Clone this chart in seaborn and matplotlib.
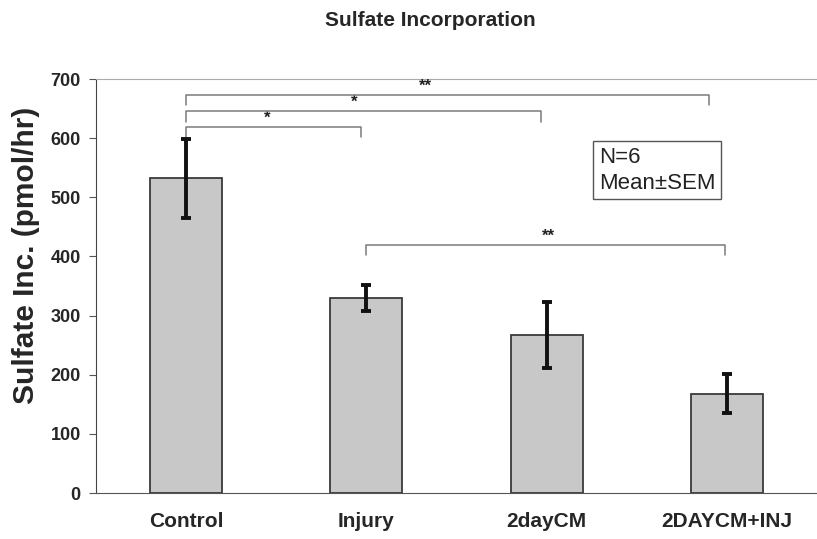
import matplotlib
matplotlib.use("Agg")
import matplotlib.pyplot as plt
import seaborn as sns
import pandas as pd

categories = ["Control", "Injury", "2dayCM", "2DAYCM+INJ"]
means = [532, 330, 267, 168]
sems = [67, 22, 56, 33]

# significance brackets: (left index, right index, bar height, leg bottom, label, label x)
br_left = [0, 0, 0, 1]
br_right = [0.97, 1.97, 2.90, 2.99]
br_top = [619, 646, 673, 419]
br_leg = [602, 627, 656, 402]
br_label = ["*", "*", "**", "**"]
br_label_x = [0.45, 0.93, 1.33, 2.01]

sns.set_style("white")
plt.rcParams["font.family"] = ["Liberation Sans", "DejaVu Sans"]

fig = plt.figure(figsize=(8.17, 5.39), dpi=100)
ax = fig.add_axes([96 / 817, 1 - 493 / 539, (817 - 96) / 817, (493 - 79) / 539])

df = pd.DataFrame({"cat": categories, "val": means})
sns.barplot(data=df, x="cat", y="val", ax=ax, color="#c8c8c8", width=0.4,
            edgecolor="#3a3a3a", linewidth=1.3, saturation=1, errorbar=None)
ax.errorbar(range(len(categories)), means, yerr=sems, fmt="none", ecolor="#111111",
            elinewidth=2.8, capsize=3.5, capthick=2.8, zorder=5)

for l, r, t, b, lab, lx in zip(br_left, br_right, br_top, br_leg, br_label, br_label_x):
    ax.plot([l, l, r, r], [b, t, t, b], color="#7a7a7a", lw=1.1, zorder=4)
    ax.text(lx, t + 2, lab, ha="center", va="bottom", fontsize=12, fontweight="bold",
            color="#222222")

ax.text(2.29, 585, "N=6\nMean\u00b1SEM", ha="left", va="top", fontsize=16,
        linespacing=1.3, color="#222222",
        bbox=dict(boxstyle="square,pad=0.25", fc="white", ec="#555555", lw=1))

ax.set_xlim(-0.5, 3.443)
ax.set_ylim(0, 700)
ax.set_yticks(range(0, 701, 100))
ax.set_xticks([i + 0.5 for i in range(-1, 4)], minor=True)
ax.tick_params(axis="x", which="major", length=0, pad=14, labelsize=15)
ax.tick_params(axis="x", which="minor", length=5, color="#555555", direction="out")
ax.tick_params(axis="y", length=5, color="#555555", direction="out", left=True,
               labelsize=13, pad=6)
for lbl in ax.get_xticklabels() + ax.get_yticklabels():
    lbl.set_fontweight("bold")
ax.set_xlabel("")
ax.set_ylabel("Sulfate Inc. (pmol/hr)", fontsize=21.5, fontweight="bold")
ax.yaxis.set_label_coords(-0.078, 0.575)

ax.spines["left"].set_color("#444444")
ax.spines["bottom"].set_color("#555555")
ax.spines["top"].set_color("#aaaaaa")
ax.spines["right"].set_visible(False)

fig.text(430 / 817, 1 - 20 / 539, "Sulfate Incorporation", ha="center", va="center",
         fontsize=15, fontweight="bold")

fig.savefig("out.png", dpi=100)
